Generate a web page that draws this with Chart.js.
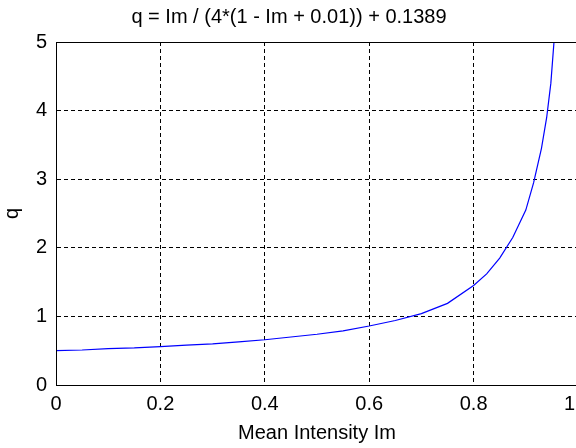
<!DOCTYPE html>
<html>
<head>
<meta charset="utf-8">
<script src="https://cdn.jsdelivr.net/npm/chart.js@4/dist/chart.umd.min.js"></script>
<style>
  html, body { margin: 0; padding: 0; background: #fff; overflow: hidden; }
  #wrap { width: 576px; height: 448px; overflow: hidden; }
  canvas { display: block; }
</style>
</head>
<body>
<div id="wrap"><canvas id="chart" width="600" height="448"></canvas></div>
<script>
// mean intensity Im vs q
const intensity = [0, 0.05, 0.1, 0.15, 0.2, 0.25, 0.3, 0.35, 0.4, 0.45, 0.5, 0.55, 0.6, 0.65,
                   0.7, 0.75, 0.8, 0.825, 0.85, 0.875, 0.9, 0.915, 0.93, 0.94, 0.948, 0.954];
const qValues = [0.50, 0.51, 0.53, 0.54, 0.56, 0.58, 0.60, 0.63, 0.66, 0.70, 0.74, 0.79, 0.86, 0.94,
                 1.04, 1.19, 1.45, 1.62, 1.85, 2.15, 2.55, 2.95, 3.45, 3.90, 4.40, 5.00];
const xTicks = [0, 0.2, 0.4, 0.6, 0.8, 1];
const yTicks = [0, 1, 2, 3, 4, 5];

const titleText = 'q = Im / (4*(1 - Im + 0.01)) + 0.1389';
const font = { family: '"Liberation Sans", Arial, sans-serif', size: 20 };

// closed box around the axes, like a matlab figure
const boxPlugin = {
  id: 'axesBox',
  afterDraw(chart) {
    const a = chart.chartArea, ctx = chart.ctx;
    ctx.save();
    ctx.strokeStyle = '#000';
    ctx.lineWidth = 1;
    ctx.strokeRect(Math.round(a.left) + 0.5, Math.round(a.top) + 0.5,
                   Math.round(a.right - a.left), Math.round(a.bottom - a.top));
    ctx.restore();
  }
};

const gridOpts = { color: '#000', lineWidth: 1, drawTicks: false };

new Chart(document.getElementById('chart'), {
  type: 'line',
  data: {
    datasets: [{
      data: intensity.map((x, i) => ({ x: x, y: qValues[i] })),
      borderColor: '#0000ff',
      borderWidth: 1.2,
      pointRadius: 0,
      tension: 0,
      fill: false
    }]
  },
  options: {
    animation: false,
    responsive: false,
    layout: { padding: { left: 0, right: 22, top: 0, bottom: 0 } },
    plugins: {
      legend: { display: false },
      tooltip: { enabled: false },
      title: {
        display: true,
        text: titleText,
        color: '#000',
        font: { ...font, weight: 'normal' },
        padding: { top: 5, bottom: 13 }
      }
    },
    scales: {
      x: {
        type: 'linear',
        min: 0, max: 1,
        afterBuildTicks: s => { s.ticks = xTicks.map(v => ({ value: v })); },
        afterFit: s => { s.height = 63; s.paddingLeft = 0; s.paddingRight = 0; },
        grid: gridOpts,
        border: { display: true, color: '#000', width: 1, dash: [4, 3] },
        ticks: { color: '#000', font: font, padding: 7, maxRotation: 0 },
        title: { display: true, text: 'Mean Intensity Im', color: '#000', font: font, padding: { top: 0, bottom: 3 } }
      },
      y: {
        min: 0, max: 5,
        afterBuildTicks: s => { s.ticks = yTicks.map(v => ({ value: v })); },
        afterFit: s => { s.width = 56; },
        grid: gridOpts,
        border: { display: true, color: '#000', width: 1, dash: [4, 3] },
        ticks: { color: '#000', font: font, padding: 9 },
        title: { display: true, text: 'q', color: '#000', font: font, padding: 0 }
      }
    }
  },
  plugins: [boxPlugin]
});
</script>
</body>
</html>
